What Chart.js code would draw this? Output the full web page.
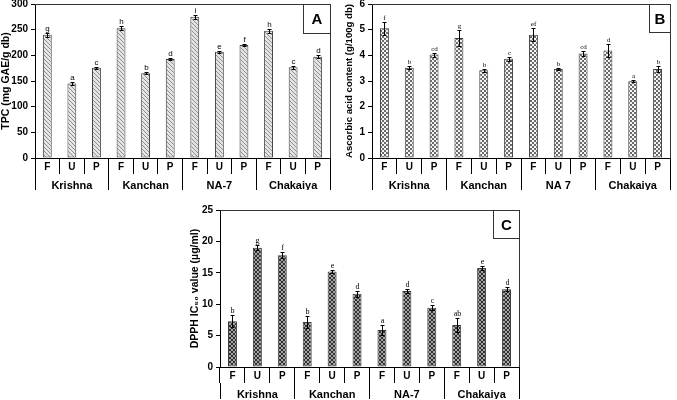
<!DOCTYPE html>
<html>
<head>
<meta charset="utf-8">
<script src="https://cdn.jsdelivr.net/npm/chart.js@4"></script>
<style>
body{margin:0;background:#fff;width:677px;height:400px;position:relative;overflow:hidden}
canvas{position:absolute}
</style>
</head>
<body>
<canvas id="chartA" width="337" height="200" style="left:0;top:-5px"></canvas>
<canvas id="chartB" width="340" height="200" style="left:337px;top:-5px"></canvas>
<canvas id="chartC" width="345" height="200" style="left:180px;top:200px"></canvas>
<script>
// data
const treatments = ['F','U','P','F','U','P','F','U','P','F','U','P'];
const varietiesA = ['Krishna','Kanchan','NA-7','Chakaiya'];
const varietiesB = ['Krishna','Kanchan','NA 7','Chakaiya'];

const tpcValues  = [240, 145, 176, 253, 165, 193, 275, 207, 220, 248, 177, 197];
const tpcErrors  = [4, 3, 2, 4, 2, 1.5, 4, 1.5, 1.5, 4, 3, 3];
const tpcLetters = ['g','a','c','h','b','d','i','e','f','h','c','d'];

const ascValues  = [5.06, 3.52, 4.03, 4.68, 3.42, 3.87, 4.80, 3.47, 4.07, 4.19, 2.99, 3.47];
const ascErrors  = [0.25, 0.07, 0.08, 0.3, 0.06, 0.08, 0.25, 0.05, 0.08, 0.25, 0.03, 0.1];
const ascLetters = ['f','b','cd','g','b','c','ef','b','cd','d','a','b'];

const dpphValues  = [7.3, 19.0, 17.8, 7.15, 15.2, 11.65, 5.9, 12.1, 9.45, 6.7, 15.75, 12.4];
const dpphErrors  = [1.0, 0.4, 0.5, 1.0, 0.2, 0.5, 0.8, 0.3, 0.4, 1.1, 0.3, 0.3];
const dpphLetters = ['b','g','f','b','e','d','a','d','c','ab','e','d'];

function hatch(bg, fg, cross) {
    const c = document.createElement('canvas');
    c.width = 4; c.height = 4;
    const g = c.getContext('2d');
    g.fillStyle = bg; g.fillRect(0, 0, 4, 4);
    g.fillStyle = fg;
    for (let i = 0; i < 4; i++) {
        g.fillRect(i, i, 1, 1);
        if (cross) g.fillRect(3 - i, i, 1, 1);
    }
    return g.createPattern(c, 'repeat');
}

const errorBars = {
    id: 'errorBars',
    afterDatasetsDraw(chart, args, opts) {
        const ctx = chart.ctx, y = chart.scales.y;
        const ds = chart.data.datasets[0];
        chart.getDatasetMeta(0).data.forEach((bar, i) => {
            const v = ds.data[i], e = ds.errors[i];
            const top = Math.round(y.getPixelForValue(v + e)) + 0.5;
            const bot = Math.round(y.getPixelForValue(v - e)) + 0.5;
            const x = Math.round(bar.x) + 0.5;
            ctx.save();
            ctx.strokeStyle = '#000';
            ctx.lineWidth = 1;
            ctx.beginPath();
            ctx.moveTo(x, top); ctx.lineTo(x, bot);
            ctx.moveTo(x - 2, top); ctx.lineTo(x + 2, top);
            ctx.moveTo(x - 2, bot); ctx.lineTo(x + 2, bot);
            ctx.stroke();
            ctx.fillStyle = '#000';
            ctx.font = opts.font;
            ctx.textAlign = 'center';
            ctx.textBaseline = 'bottom';
            ctx.fillText(ds.letters[i], x, top - 1);
            ctx.restore();
        });
    }
};

const frame = {
    id: 'frame',
    afterDraw(chart, args, o) {
        const ctx = chart.ctx;
        const {left, right, top, bottom} = chart.chartArea;
        ctx.save();
        ctx.strokeStyle = '#333';
        ctx.lineWidth = 1;
        ctx.beginPath();
        ctx.moveTo(left, top + 0.5);
        ctx.lineTo(right + 0.5, top + 0.5);
        ctx.lineTo(right + 0.5, bottom);
        ctx.stroke();
        ctx.strokeRect(right - o.w + 0.5, top + 0.5, o.w, o.h);
        ctx.fillStyle = '#000';
        ctx.font = 'bold 15px "Liberation Sans", Arial, sans-serif';
        ctx.textAlign = 'center';
        ctx.textBaseline = 'middle';
        ctx.fillText(o.letter, right - o.w / 2 + 0.5, top + o.h / 2 + 1.5);
        ctx.restore();
    }
};

const boldFont = size => ({family: '"Liberation Sans", Arial, sans-serif', weight: 'bold', size: size});

function drawPanel(id, cfg) {
    new Chart(document.getElementById(id), {
        type: 'bar',
        data: {
            labels: treatments,
            datasets: [{
                data: cfg.values,
                errors: cfg.errors,
                letters: cfg.letters,
                backgroundColor: cfg.fill,
                borderColor: '#3a3a3a',
                borderWidth: 1,
                borderSkipped: false,
                categoryPercentage: 1,
                barPercentage: 0.36
            }]
        },
        options: {
            responsive: false,
            animation: false,
            layout: {padding: cfg.padding},
            plugins: {
                legend: {display: false},
                tooltip: {enabled: false},
                errorBars: {font: cfg.letterFont},
                frame: {letter: cfg.panel, w: cfg.boxW, h: cfg.boxH}
            },
            scales: {
                x: {
                    position: 'bottom',
                    weight: 0,
                    offset: true,
                    grid: {offset: true, drawOnChartArea: false, tickLength: 16, color: '#000'},
                    border: {color: '#000'},
                    ticks: {padding: -13, color: '#000', font: boldFont(10), autoSkip: false, maxRotation: 0},
                    afterFit: s => { s.height = 16; }
                },
                x2: {
                    type: 'category',
                    labels: cfg.groups,
                    position: 'bottom',
                    weight: 1,
                    offset: true,
                    grid: {offset: true, drawOnChartArea: false, tickLength: 16, color: '#000'},
                    border: {display: false},
                    ticks: {padding: -11, color: '#000', font: boldFont(11), autoSkip: false, maxRotation: 0},
                    afterFit: s => { s.height = 16; }
                },
                y: {
                    min: 0,
                    max: cfg.max,
                    ticks: {stepSize: cfg.step, padding: 3, color: '#000', font: boldFont(10)},
                    grid: {drawOnChartArea: false, tickLength: 4, color: '#000'},
                    border: {color: '#000'},
                    title: {display: true, text: cfg.title, color: '#000', font: boldFont(cfg.titleSize), padding: {top: cfg.titlePad, bottom: 0}},
                    afterFit: s => { s.width = cfg.axisWidth; }
                }
            }
        },
        plugins: [errorBars, frame]
    });
}

drawPanel('chartA', {
    values: tpcValues, errors: tpcErrors, letters: tpcLetters, groups: varietiesA,
    fill: hatch('#e4e4e4', '#8e8e8e', false),
    max: 300, step: 50, title: 'TPC (mg GAE/g db)', titleSize: 10.5, titlePad: 0,
    axisWidth: 35, padding: {left: 0, right: 7, top: 4, bottom: 5},
    letterFont: '8px "Liberation Sans", Arial, sans-serif',
    panel: 'A', boxW: 27, boxH: 29
});

drawPanel('chartB', {
    values: ascValues, errors: ascErrors, letters: ascLetters, groups: varietiesB,
    fill: hatch('#f4f4f4', '#6a6a6a', true),
    max: 6, step: 1, title: 'Ascorbic acid content (g/100g db)', titleSize: 9.6, titlePad: 7,
    axisWidth: 35, padding: {left: 0, right: 7, top: 4, bottom: 5},
    letterFont: '7px "Liberation Serif", serif',
    panel: 'B', boxW: 21, boxH: 28
});

drawPanel('chartC', {
    values: dpphValues, errors: dpphErrors, letters: dpphLetters, groups: varietiesA,
    fill: hatch('#a4a4a4', '#303030', true),
    max: 25, step: 5, title: 'DPPH IC\u2085\u2080 value (\u00b5g/ml)', titleSize: 10.5, titlePad: 9,
    axisWidth: 40, padding: {left: 0, right: 6, top: 10, bottom: 1},
    letterFont: '8px "Liberation Serif", serif',
    panel: 'C', boxW: 26, boxH: 28
});
</script>
</body>
</html>
